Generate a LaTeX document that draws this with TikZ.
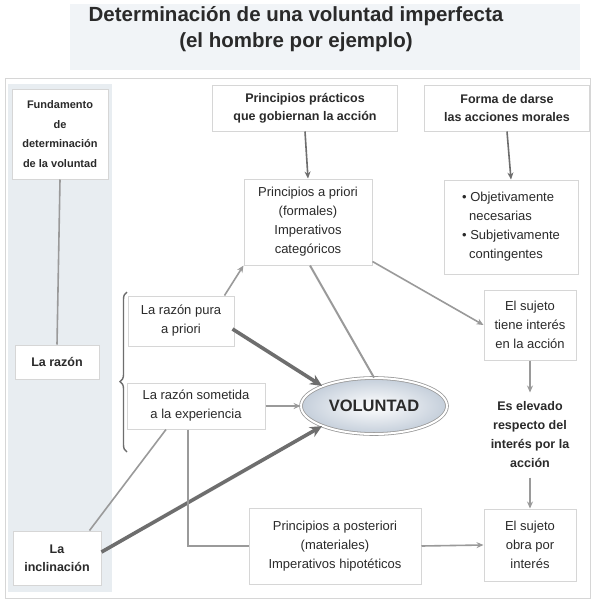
\documentclass[tikz,border=0pt]{standalone}
\usepackage{fontspec}
\setmainfont{Liberation Sans}
\usetikzlibrary{arrows.meta,decorations.pathreplacing,shapes.geometric,shadows}
\definecolor{txt}{HTML}{2A2A2A}
\definecolor{ln}{HTML}{9A9A9A}
\definecolor{lndark}{HTML}{6E6E6E}
\definecolor{band}{HTML}{E8EDF1}
\definecolor{titleband}{HTML}{F1F4F7}
\definecolor{boxline}{HTML}{D6D6D6}
\definecolor{volfill}{HTML}{C4CEDA}
\begin{document}
\begin{tikzpicture}[x=1pt,y=-1pt,
  box/.style={draw=boxline,line width=1pt,fill=white,align=center,text=txt,
    font=\fontsize{13}{19}\selectfont,inner sep=2pt},
  bbox/.style={box,font=\fontsize{12.5}{18}\selectfont\bfseries},
  conn/.style={draw=ln,line width=1.6pt},
  arr/.style={conn,-{Stealth[length=7pt,width=6pt]}},
  thick arr/.style={draw=lndark,line width=3.6pt,-{Stealth[length=12pt,width=11pt]}}
]
\useasboundingbox (0,0) rectangle (595,606);
\fill[white] (0,0) rectangle (595,606);
% title band
\fill[titleband] (70,4) rectangle (580,70);
\node[font=\fontsize{20.5}{26}\selectfont\bfseries,text=txt,align=center] (title) at (296,29)
  {Determinación de una voluntad imperfecta\\(el hombre por ejemplo)};
% frame
\draw[boxline,line width=1pt] (5,78) rectangle (590,598);
\fill[band] (8,84) rectangle (112,592);

% nodes
\node[bbox,minimum width=96,minimum height=90,font=\fontsize{11}{19.5}\selectfont\bfseries] (fund) at (60,134)
  {Fundamento\\de\\determinación\\de la voluntad};
\node[bbox,minimum width=84,minimum height=34] (razon) at (57,362) {La razón};
\node[bbox,minimum width=88,minimum height=54] (incl) at (57,558) {La\\inclinación};

\node[bbox,minimum width=185,minimum height=46] (pp) at (305,108)
  {Principios prácticos\\que gobiernan la acción};
\node[bbox,minimum width=165,minimum height=46] (fd) at (507,108)
  {Forma de darse\\las acciones morales};

\node[box,minimum width=128,minimum height=86] (pap) at (308,222)
  {Principios a priori\\(formales)\\Imperativos\\categóricos};
\node[box,minimum width=134,minimum height=94,align=left] (obj) at (511,227)
  {• Objetivamente\\\hspace*{7pt}necesarias\\• Subjetivamente\\\hspace*{7pt}contingentes};

\node[box,minimum width=106,minimum height=50] (rpura) at (181,321)
  {La razón pura\\a priori};
\node[box,minimum width=138,minimum height=46] (rsom) at (196,406)
  {La razón sometida\\a la experiencia};

\node[ellipse,draw=ln,line width=0.8pt,double=white,double distance=2pt,
  inner color=white,outer color=volfill,minimum width=146,minimum height=56,
  text=txt,font=\fontsize{16.5}{18}\selectfont\bfseries] (vol) at (374,406) {VOLUNTAD};

\node[box,minimum width=92,minimum height=70] (sint) at (530,325)
  {El sujeto\\tiene interés\\en la acción};
\node[bbox,draw=none,minimum width=92,minimum height=84,font=\fontsize{12.5}{19}\selectfont\bfseries] (elev) at (530,435)
  {Es elevado\\respecto del\\interés por la\\acción};
\node[box,minimum width=92,minimum height=72] (sobra) at (530,545)
  {El sujeto\\obra por\\interés};
\node[box,minimum width=172,minimum height=76] (papost) at (335,546)
  {Principios a posteriori\\(materiales)\\Imperativos hipotéticos};

% brace
\coordinate (brt) at (127,292);
\coordinate (brb) at (127,452);
\draw[lndark,line width=1.4pt,decorate,decoration={brace,amplitude=7pt,aspect=0.44}] (brb) -- (brt);

% connectors
\draw[conn] (fund.south) -- (razon.north);
\draw[arr,draw=lndark] (pp.south) -- (pap.north);
\draw[arr,draw=lndark] (fd.south) -- (obj.north);
\draw[arr] (rpura.north east) ++(-10,0) coordinate (a1) (a1) -- (pap.south west);
\draw[conn,line width=2pt] (pap.south) ++(2,0) coordinate (a2) (a2) -- (vol.north);
\draw[arr] (pap.south east) ++(0,-4) coordinate (a3) (a3) -- (sint.west);
\draw[thick arr] (rpura.east) ++(-2,8) coordinate (a4) (a4) -- (vol.north west);
\draw[arr] (rsom.east) -- (vol.west);
\draw[thick arr] (incl.east) ++(0,-6) coordinate (a5) (a5) -- (vol.south west);
\draw[conn] (incl.north east) ++(-12,0) coordinate (a6) (a6) -- ([xshift=-30pt]rsom.south);
\draw[conn] ([xshift=-8pt]rsom.south) |- (papost.west);
\draw[arr] (papost.east) -- (sobra.west);
\draw[arr,line width=1.2pt] (sint.south) -- (elev.north);
\draw[arr,line width=1.2pt] (elev.south) -- (sobra.north);
\end{tikzpicture}
\end{document}
